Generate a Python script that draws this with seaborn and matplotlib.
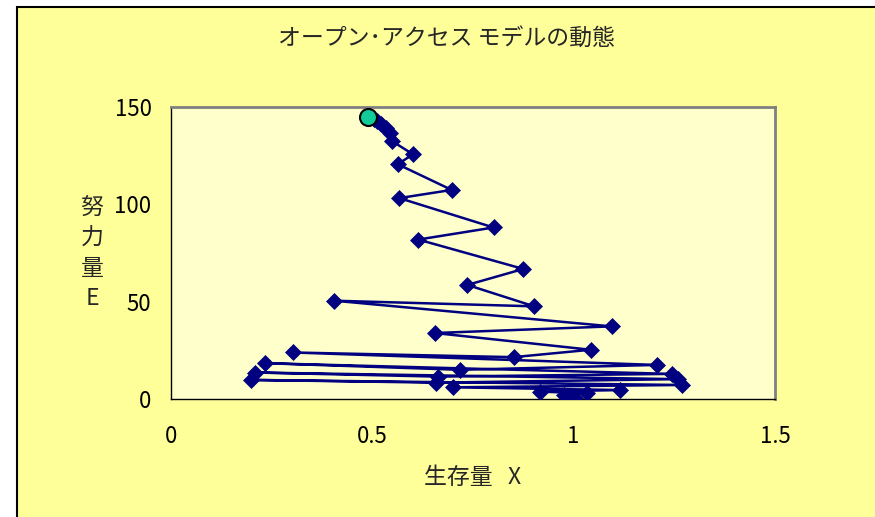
import matplotlib
matplotlib.use("Agg")
import matplotlib.pyplot as plt
from matplotlib.patches import Rectangle
import pandas as pd
import seaborn as sns

# Open-access fishery trajectory: stock X vs. effort E, step by step
stock_x = [1.004, 0.996, 0.975, 1.033, 0.917, 1.116, 0.701, 1.270, 0.199, 0.658,
           1.258, 0.209, 0.664, 1.243, 0.233, 0.718, 1.206, 0.302, 0.851, 1.042,
           0.655, 1.094, 0.405, 0.902, 0.736, 0.875, 0.614, 0.801, 0.567, 0.697,
           0.563, 0.601, 0.548, 0.545, 0.533, 0.522, 0.512, 0.503, 0.496]
effort_e = [0.5, 1.2, 2.1, 2.9, 3.8, 4.6, 6.0, 7.2, 9.8, 8.4,
            10.2, 13.6, 11.5, 12.9, 18.4, 15.0, 17.5, 23.9, 21.5, 25.3,
            33.9, 37.3, 50.5, 47.6, 58.6, 66.8, 81.9, 88.1, 103.2, 107.4,
            120.6, 125.7, 132.6, 136.5, 139.3, 141.5, 143.0, 144.0, 144.7]

# Equilibrium point
eq_x = [0.489]
eq_e = [145.1]

x_ticks = [0, 0.5, 1, 1.5]
x_tick_labels = ["0", "0.5", "1", "1.5"]
y_ticks = [0, 50, 100, 150]

title = "オープン･アクセス モデルの動態"
x_label = "生存量   X"
y_label = "努\n力\n量\nE"

sns.set_style("white")
plt.rcParams["font.family"] = ["Noto Sans CJK JP", "DejaVu Sans"]

W, H = 875, 517
fig = plt.figure(figsize=(W / 100, H / 100), dpi=100, facecolor="white")

# Chart area background with border
fig.patches.append(Rectangle((16.5 / W, -0.1), 1.2, 1 - 6.5 / H + 0.1,
                             transform=fig.transFigure, facecolor="#FFFF99",
                             edgecolor="black", lw=1.5, zorder=-10))

ax = fig.add_axes([171 / W, 118 / H, 604 / W, 292 / H])
ax.set_zorder(1)
ax.set_facecolor("#FFFFCC")

traj = pd.DataFrame({"step": range(len(stock_x)), "X": stock_x, "E": effort_e})
sns.lineplot(data=traj, x="X", y="E", sort=False, estimator=None, ax=ax,
             color="#000080", lw=1.8, marker="D", markersize=8.5,
             markeredgecolor="#000080", markeredgewidth=0.5, zorder=3)

eq = pd.DataFrame({"X": eq_x, "E": eq_e})
sns.scatterplot(data=eq, x="X", y="E", ax=ax, s=150, color="#11CC99",
                edgecolor="black", linewidth=1.5, zorder=5)

ax.set_xlim(0, 1.5)
ax.set_ylim(0, 150)
ax.set_xticks(x_ticks)
ax.set_xticklabels(x_tick_labels)
ax.set_yticks(y_ticks)
ax.tick_params(axis="both", direction="in", length=6, width=1, colors="black",
               labelsize=16)
ax.tick_params(axis="x", pad=19)
ax.tick_params(axis="y", pad=14)

for side in ("left", "bottom"):
    ax.spines[side].set_color("black")
    ax.spines[side].set_linewidth(1)
for side in ("top", "right"):
    ax.spines[side].set_color("#808080")
    ax.spines[side].set_linewidth(2)

ax.set_xlabel(x_label, fontsize=16.5)
ax.xaxis.label.set_va("center")
ax.xaxis.set_label_coords(0.5, (399 - 477) / 292)

ax.set_ylabel(y_label, fontsize=16.5, rotation=0, ha="center", va="center",
              linespacing=1.4)
ax.yaxis.set_label_coords((92 - 171) / 604, 0.5)

fig.text(446 / W, 1 - 38 / H, title, ha="center", va="center", fontsize=16.5,
         zorder=2)

fig.savefig("out.png", dpi=100)
